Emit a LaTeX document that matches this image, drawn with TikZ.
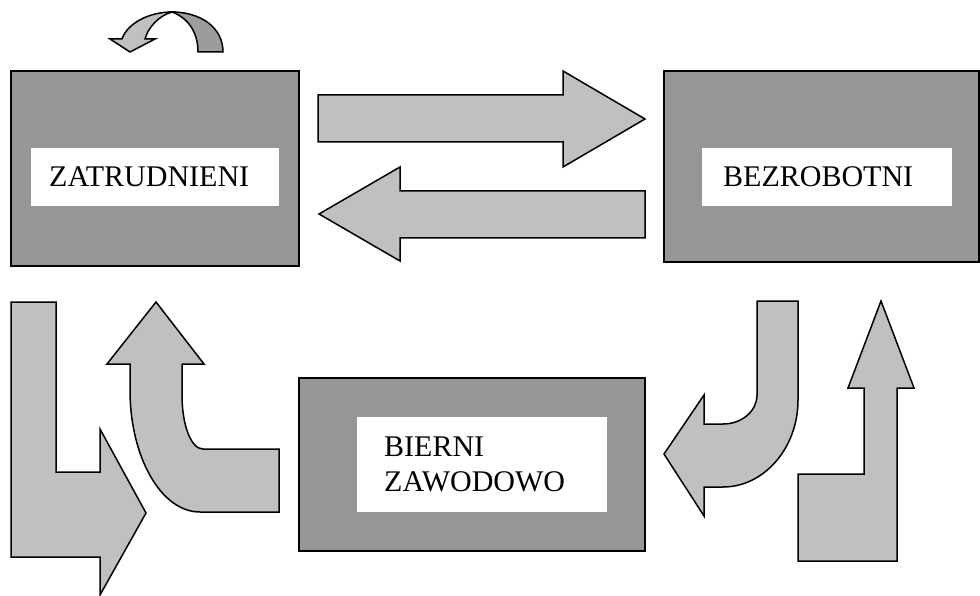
\documentclass[tikz,border=0pt]{standalone}
\usepackage{fontspec}
\setmainfont{Liberation Serif}
\definecolor{boxgray}{HTML}{969696}
\definecolor{arrowgray}{HTML}{C0C0C0}
\definecolor{backgray}{HTML}{9C9C9C}
\tikzset{
  outerbox/.style={draw, line width=1.8pt, fill=boxgray, inner sep=0pt},
  whitelabel/.style={fill=white, inner ysep=0pt, align=left, anchor=west,
    font=\fontsize{30}{35}\selectfont},
  blockarrow/.style={draw, line width=1.5pt, fill=arrowgray, line join=miter},
}
\begin{document}
\begin{tikzpicture}[x=1pt,y=-1pt]
  \useasboundingbox (0,0) rectangle (980,596);
  % boxes
  \node[outerbox, minimum width=288pt, minimum height=195pt] (zatr) at (155,168.5) {};
  \node[whitelabel, minimum height=58pt, text width=212pt, inner xsep=18pt] (zatrtxt) at (31,177) {ZATRUDNIENI};
  \node[outerbox, minimum width=315pt, minimum height=191pt] (bezr) at (821.5,166.5) {};
  \node[whitelabel, minimum height=58pt, text width=208pt, inner xsep=21pt] (bezrtxt) at (702,177) {BEZROBOTNI};
  \node[outerbox, minimum width=346pt, minimum height=173pt] (bier) at (472,464.5) {};
  \node[whitelabel, minimum height=95pt, text width=196pt, inner xsep=27pt] (biertxt) at (357,464.5) {BIERNI\\ZAWODOWO};
  % straight arrows between the top boxes
  \draw[blockarrow] (318,95) -- (563,95) -- (563,71) -- (645,119) -- (563,167) -- (563,142) -- (318,142) -- cycle;
  \draw[blockarrow] (645,191) -- (400,191) -- (400,167) -- (319,214) -- (400,261) -- (400,238) -- (645,238) -- cycle;
  % curved arrow above ZATRUDNIENI
  \draw[blockarrow, fill=backgray] (223,52) .. controls (223,27) and (200,12) .. (172,12)
    .. controls (188,18) and (198,32) .. (198,52) -- cycle;
  \draw[blockarrow] (172,12) .. controls (148,12) and (127,24) .. (122,39) -- (110,39) -- (130,52) -- (155,39)
    -- (145,39) .. controls (148,28) and (158,16) .. (172,12) -- cycle;
  % left side
  \draw[blockarrow] (11,302) -- (56,302) -- (56,472) -- (100,472) -- (100,429) -- (146,513)
    -- (100,595) -- (100,557) -- (11,557) -- cycle;
  \draw[blockarrow] (156,302) -- (204,364) -- (182,364) -- (182,395) .. controls (182,425) and (191,449) .. (203,449)
    -- (279,449) -- (279,512) -- (200,512) .. controls (161,512) and (130,457) .. (130,390) -- (130,364) -- (107,364) -- cycle;
  % right side
  \draw[blockarrow] (757,301) -- (798,301) -- (798,400) .. controls (798,448) and (764,487) .. (723,487) -- (704,487)
    -- (704,516) -- (664,454) -- (704,395) -- (704,424) -- (723,424) .. controls (742,424) and (757,411) .. (757,395) -- cycle;
  \draw[blockarrow] (881,301) -- (914,388) -- (897,388) -- (897,561) -- (798,561) -- (798,474) -- (864,474)
    -- (864,388) -- (848,388) -- cycle;
\end{tikzpicture}
\end{document}
